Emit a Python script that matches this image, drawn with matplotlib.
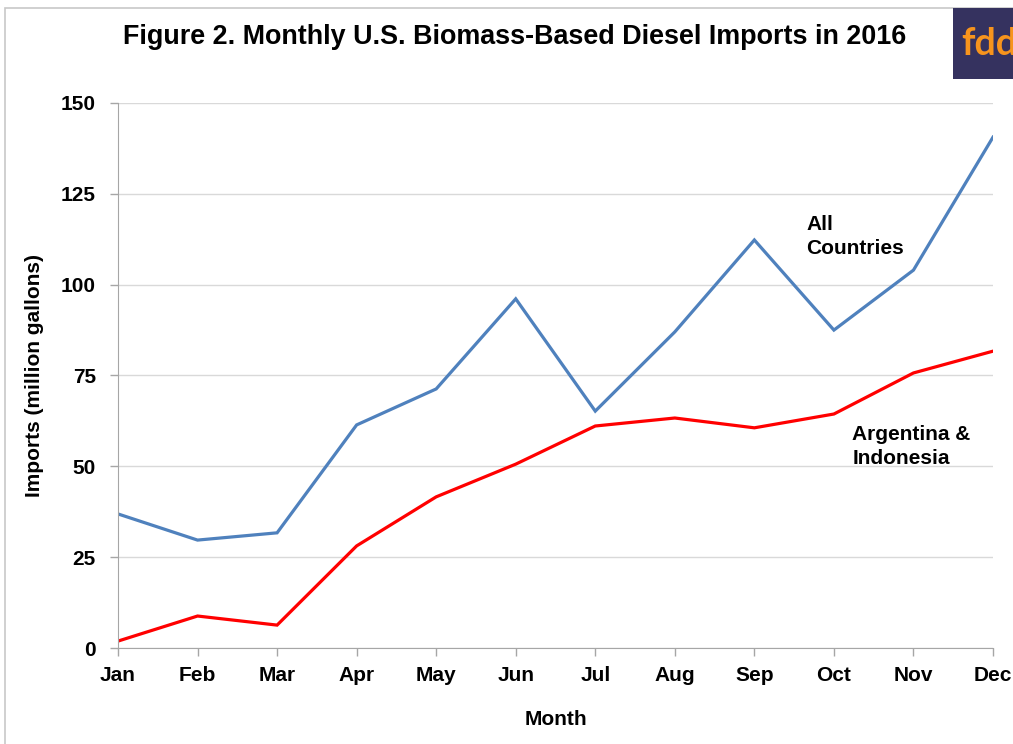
import matplotlib
matplotlib.use("Agg")
import matplotlib.pyplot as plt
from matplotlib.patches import Rectangle

months = ["Jan", "Feb", "Mar", "Apr", "May", "Jun", "Jul", "Aug", "Sep", "Oct", "Nov", "Dec"]
all_countries = [36.9, 29.7, 31.7, 61.4, 71.3, 96.1, 65.2, 87.0, 112.3, 87.5, 104.0, 140.6]
arg_indo = [1.9, 8.8, 6.3, 28.1, 41.6, 50.6, 61.1, 63.3, 60.6, 64.4, 75.7, 81.7]
y_ticks = [0, 25, 50, 75, 100, 125, 150]

plt.rcParams['font.family'] = ['Liberation Sans', 'DejaVu Sans']

W, H = 1013, 744
fig = plt.figure(figsize=(W / 100, H / 100), dpi=100)

# outer frame of the original image
fig.add_artist(Rectangle((5 / W, -0.1), 1.2, 1 - 8 / H + 0.1, transform=fig.transFigure,
                         fill=False, edgecolor="#c8c8c8", linewidth=1.2))

ax = fig.add_axes([118 / W, 1 - 648 / H, (993 - 118) / W, (648 - 103) / H])
x = list(range(len(months)))
ax.plot(x, all_countries, color="#4f81bd", linewidth=2.3, solid_joinstyle="miter")
ax.plot(x, arg_indo, color="#ff0000", linewidth=2.3, solid_joinstyle="miter")

ax.set_xlim(0, len(months) - 1)
ax.set_ylim(0, 150)
ax.set_yticks(y_ticks)
ax.set_xticks(x)
ax.set_xticklabels(months)
ax.yaxis.grid(True, color="#d9d9d9", linewidth=1)
ax.set_axisbelow(True)
for s in ["top", "right"]:
    ax.spines[s].set_visible(False)
for s in ["left", "bottom"]:
    ax.spines[s].set_color("#a6a6a6")
ax.tick_params(axis="both", colors="#a6a6a6", length=6, width=1, labelcolor="black",
               labelsize=15)
for lbl in ax.get_xticklabels() + ax.get_yticklabels():
    lbl.set_fontweight("bold")
ax.tick_params(axis="x", pad=7)
ax.tick_params(axis="y", pad=10)

ax.set_ylabel("Imports (million gallons)", fontsize=15, fontweight="bold", labelpad=12)
ax.set_xlabel("Month", fontsize=15, fontweight="bold", labelpad=18)

ax.text(8.65, 113.2, "All\nCountries", fontsize=15, fontweight="bold", va="center",
        ha="left", linespacing=1.3)
ax.text(9.23, 55.5, "Argentina &\nIndonesia", fontsize=15, fontweight="bold", va="center",
        ha="left", linespacing=1.3)

fig.text(515 / W, 1 - 37 / H, "Figure 2. Monthly U.S. Biomass-Based Diesel Imports in 2016",
         fontsize=19.4, fontweight="bold", ha="center", va="center")

# fdd logo box
fig.add_artist(Rectangle((953 / W, 1 - 79 / H), 70 / W, 71 / H, transform=fig.transFigure,
                         facecolor="#35325f", edgecolor="none"))
fig.text(961 / W, 1 - 44 / H, "fdd", fontsize=27, fontweight="bold", color="#f7941d",
         ha="left", va="center", family=["Lato", "DejaVu Sans"])

fig.savefig("out.png", dpi=100)
